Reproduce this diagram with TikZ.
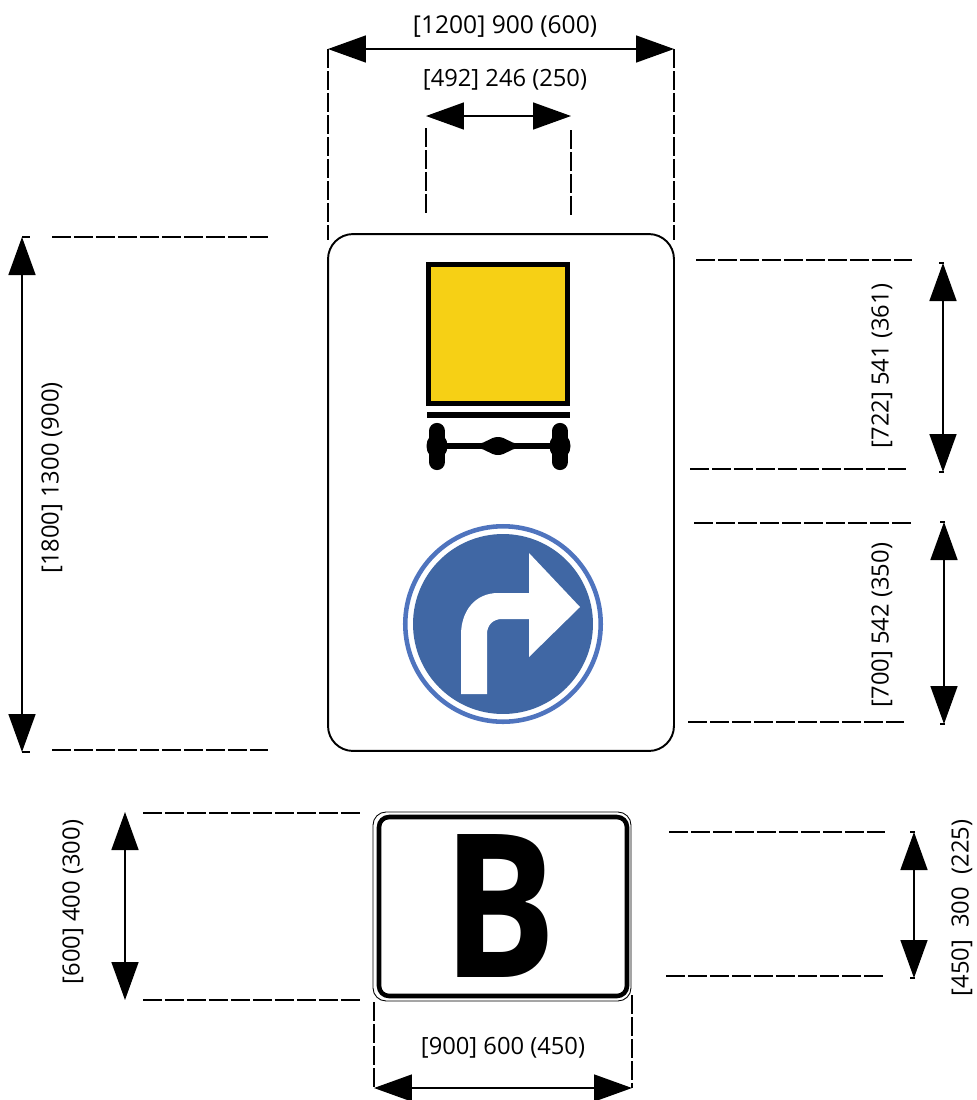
\documentclass[tikz,border=0pt]{standalone}
\usepackage{fontspec}
\setmainfont{Open Sans}
\usetikzlibrary{arrows.meta}
\definecolor{signyellow}{HTML}{F6D015}
\definecolor{signblue}{HTML}{4067A4}
\definecolor{ringblue}{HTML}{4F74BE}
\tikzset{
  dimarrow/.style={line width=0.9pt, {Triangle[length=0.76cm,width=0.54cm]}-{Triangle[length=0.76cm,width=0.54cm]}},
  dimdash/.style={line width=0.75pt, dash pattern=on 0.38cm off 0.06cm},
  dimtick/.style={line width=0.8pt},
  dimlabel/.style={font=\fontsize{13.5}{16}\selectfont, inner sep=0pt, outer sep=0pt},
  sidelabel/.style={dimlabel, rotate=90}
}
\begin{document}
\begin{tikzpicture}[x=0.02cm, y=-0.02cm]
  \useasboundingbox (0,0) rectangle (977,1100);

  % main sign
  \node (mainsign) at (501,492.5) [draw, line width=1.1pt, rounded corners=0.5cm, minimum width=6.92cm, minimum height=10.34cm, inner sep=0pt, outer sep=0pt] {};

  % load panel and axle
  \node (loadpanel) at (498,334) [draw, fill=signyellow, line width=3.2pt, minimum width=2.78cm, minimum height=2.78cm, inner sep=0pt, outer sep=0pt] {};
  \fill (426.5,412) rectangle (569.5,418);
  \draw[line width=2.9pt] (440,446) -- (556,446);
  \fill (478,443.5) .. controls (486,443.5) and (490,437) .. (498,437) .. controls (506,437) and (510,443.5) .. (518,443.5) -- (518,448.5) .. controls (510,448.5) and (506,455) .. (498,455) .. controls (490,455) and (486,448.5) .. (478,448.5) -- cycle;
  \foreach \wheelx in {437,560} {
    \draw[line width=9.2pt, line cap=round] (\wheelx,431) -- (\wheelx,462);
    \fill (\wheelx,446) ellipse (10.5 and 13);
  }

  % round sign with arrow
  \node (roundsign) at (503,624) [circle, fill=signblue, minimum size=3.6cm, inner sep=0pt, outer sep=0pt] {};
  \node (roundring) at (503,624) [circle, draw=ringblue, line width=2.6pt, minimum size=3.91cm, inner sep=0pt, outer sep=0pt] {};
  \fill[white] (461,694) -- (461,635) .. controls (461,610) and (476,593) .. (498,593) -- (529,593) -- (529,553) -- (580,607) -- (529,657) -- (529,619) -- (502,619) .. controls (493,619) and (487,625) .. (487,634) -- (487,694) -- cycle;

  % plate
  \node (plateouter) at (502,906.5) [draw, line width=0.5pt, rounded corners=0.26cm, minimum width=5.16cm, minimum height=3.78cm, inner sep=0pt, outer sep=0pt] {};
  \node (plateinner) at (503,906.5) [draw, line width=2.6pt, rounded corners=0.2cm, minimum width=4.96cm, minimum height=3.58cm, inner sep=0pt, outer sep=0pt] {};
  \node (plateletter) at (500,906) [font=\fontsize{114}{114}\bfseries\selectfont, inner sep=0pt, outer sep=0pt, xscale=0.85, transform shape] {B};

  % end points
  \coordinate (mainwl) at (328,49);
  \coordinate (mainwr) at (674,49);
  \coordinate (mainwlb) at (328,240);
  \coordinate (mainwrb) at (674,240);
  \coordinate (panelwl) at (426,116);
  \coordinate (panelwr) at (571,116);
  \coordinate (panelwlt) at (426,128);
  \coordinate (panelwrt) at (571,130);
  \coordinate (panelwlb) at (426,214);
  \coordinate (panelwrb) at (571,216);
  \coordinate (mainht) at (22,237);
  \coordinate (mainhb) at (22,752);
  \coordinate (panelht) at (943,263);
  \coordinate (panelhb) at (943,472);
  \coordinate (ringht) at (944,522);
  \coordinate (ringhb) at (944,724);
  \coordinate (plateht) at (125,812);
  \coordinate (platehb) at (125,1000);
  \coordinate (letterht) at (914,832);
  \coordinate (letterhb) at (914,978);
  \coordinate (platewl) at (374,1088);
  \coordinate (platewr) at (632,1088);
  \coordinate (platewlt) at (374,1002);
  \coordinate (platewrt) at (632,995);

  % arrows
  \draw[dimarrow] (mainwl) -- (mainwr);
  \draw[dimarrow] (panelwl) -- (panelwr);
  \draw[dimarrow] (mainht) -- (mainhb);
  \draw[dimarrow] (panelht) -- (panelhb);
  \draw[dimarrow] (ringht) -- (ringhb);
  \draw[dimarrow] (plateht) -- (platehb);
  \draw[dimarrow] (letterht) -- (letterhb);
  \draw[dimarrow] (platewl) -- (platewr);

  % end ticks
  \draw[dimtick] (mainht) -- ++(8,0);
  \draw[dimtick] (mainhb) -- ++(8,0);
  \draw[dimtick] (panelht) ++(1,0) -- ++(-5,0);
  \draw[dimtick] (panelhb) ++(1,0) -- ++(-5,0);
  \draw[dimtick] (ringht) ++(1,0) -- ++(-5,0);
  \draw[dimtick] (ringhb) ++(1,0) -- ++(-5,0);
  \draw[dimtick] (letterht) ++(1,0) -- ++(-5,0);
  \draw[dimtick] (letterhb) ++(1,0) -- ++(-5,0);

  % dashed guides
  \draw[dimdash] (mainwl) -- (mainwlb);
  \draw[dimdash] (mainwr) -- (mainwrb);
  \draw[dimdash] (panelwlt) -- (panelwlb);
  \draw[dimdash] (panelwrt) -- (panelwrb);
  \draw[dimdash] (platewlt) -- (platewl);
  \draw[dimdash] (platewrt) -- (platewr);
  \draw[dimdash] (52,237) coordinate (gl1) -- (268,237) coordinate (gr1);
  \draw[dimdash] (52,750) coordinate (gl2) -- (268,750) coordinate (gr2);
  \draw[dimdash] (696,260) coordinate (gl3) -- (912,260) coordinate (gr3);
  \draw[dimdash] (690,469) coordinate (gl4) -- (906,469) coordinate (gr4);
  \draw[dimdash] (694,523) coordinate (gl5) -- (911,523) coordinate (gr5);
  \draw[dimdash] (688,722) coordinate (gl6) -- (904,722) coordinate (gr6);
  \draw[dimdash] (143,813) coordinate (gl7) -- (360,813) coordinate (gr7);
  \draw[dimdash] (143,1000) coordinate (gl8) -- (360,1000) coordinate (gr8);
  \draw[dimdash] (669,832) coordinate (gl9) -- (885,832) coordinate (gr9);
  \draw[dimdash] (666,976) coordinate (gl10) -- (883,976) coordinate (gr10);

  % labels
  \node (mainwlabel) at (505,27) [dimlabel, font=\fontsize{14}{16}\selectfont] {[1200] 900 (600)};
  \node (panelwlabel) at (505,80) [dimlabel] {[492] 246 (250)};
  \node (platewlabel) at (503,1048) [dimlabel] {[900] 600 (450)};
  \node (mainhlabel) at (52,478) [sidelabel] {[1800] 1300 (900)};
  \node (panelhlabel) at (882,366) [sidelabel] {[722] 541 (361)};
  \node (ringhlabel) at (882,625) [sidelabel] {[700] 542 (350)};
  \node (platehlabel) at (73,902) [sidelabel] {[600] 400 (300)};
  \node (letterhlabel) at (962,908) [sidelabel] {[450]~~300~~(225)};
\end{tikzpicture}
\end{document}
